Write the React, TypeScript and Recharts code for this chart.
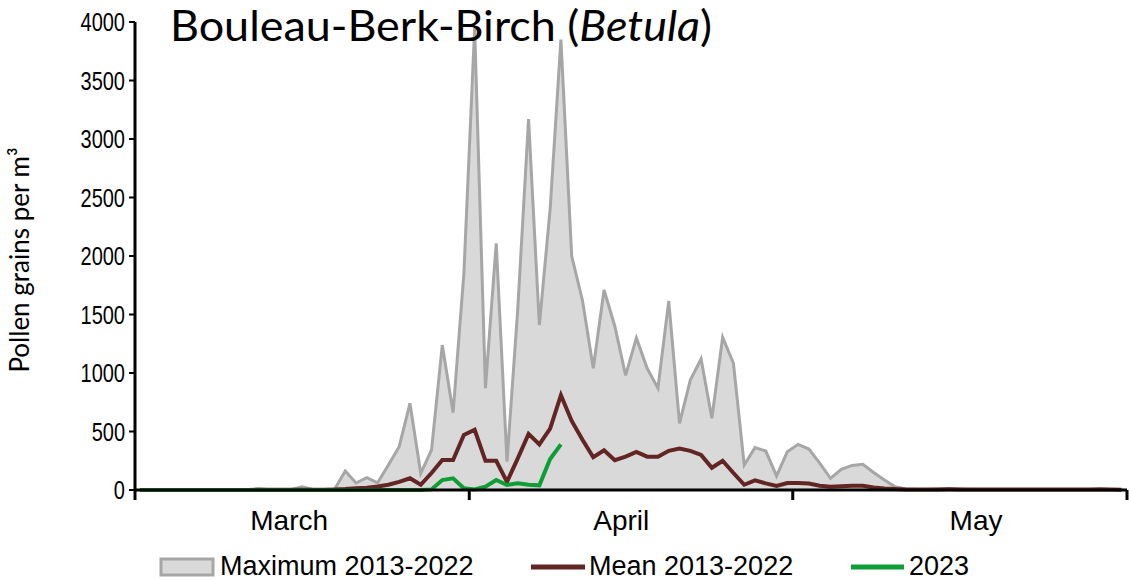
import React from 'react';
import { Area, ComposedChart, Line, XAxis, YAxis } from 'recharts';

// daily values, 1 March .. 31 May (92 days)
const maxValues = [
  0, 0, 0, 0, 0, 0, 0, 0, 0, 0, 0, 10, 3, 3, 5, 28, 5, 3, 5, 162,
  60, 105, 62, 214, 370, 741, 143, 342, 1239, 661, 1850, 3950, 870, 2108, 242, 1550, 3170, 1410, 2400, 3850,
  2000, 1620, 1040, 1710, 1400, 980, 1300, 1040, 870, 1615, 570, 940, 1120, 613, 1305, 1083, 214, 362, 333, 120,
  327, 390, 350, 230, 100, 177, 210, 220, 150, 85, 28, 8, 5, 5, 8, 12, 8, 5, 5, 5,
  5, 5, 5, 5, 5, 5, 5, 5, 5, 12, 5, 3,
];

const meanValues = [
  0, 0, 0, 0, 0, 0, 0, 0, 0, 0, 0, 2, 2, 2, 3, 3, 3, 3, 5, 8,
  15, 20, 30, 45, 70, 100, 45, 145, 256, 256, 470, 515, 250, 250, 70, 270, 480, 390, 525, 810,
  590, 430, 280, 340, 255, 285, 325, 285, 285, 335, 355, 335, 300, 190, 250, 145, 45, 82, 57, 35,
  60, 60, 55, 37, 28, 33, 37, 37, 22, 12, 8, 5, 5, 5, 5, 6, 5, 5, 4, 4,
  4, 4, 4, 4, 4, 4, 4, 5, 5, 4, 4, 3,
];

// 2023 season so far
const values2023 = [
  0, 0, 0, 0, 0, 0, 0, 0, 0, 0, 0, 0, 0, 0, 0, 0, 0, 0, 0, 0,
  0, 0, 0, 0, 0, 0, 0, 5, 85, 100, 15, 5, 28, 85, 43, 57, 45, 40, 265, 390,
];

const monthLabels = ['March', 'April', 'May'];
const monthStarts = [0, 31, 61, 92];
const monthLabelDays = [14.3, 45.1, 78];
const yTicks = [0, 500, 1000, 1500, 2000, 2500, 3000, 3500, 4000];

const chartData = maxValues.map((v, i) => ({
  day: i + 0.5,
  max: v,
  mean: meanValues[i],
  y2023: i < values2023.length ? values2023[i] : null,
}));

const arial = '"Liberation Sans", Arial, sans-serif';
const calibriLike = 'Lato, "Open Sans", sans-serif';

const MAX_FILL = '#d9d9d9';
const MAX_STROKE = '#a6a6a6';
const MEAN_COLOR = '#632523';
const GREEN = '#0e9e36';

function MonthTick(props: any) {
  const { x, y, payload } = props;
  const v = payload.value;
  if (monthStarts.indexOf(v) >= 0) {
    return <line x1={x} x2={x} y1={y} y2={y + 10} stroke="#000" strokeWidth={3} />;
  }
  const labelIdx = monthLabelDays.indexOf(v);
  return (
    <text x={x} y={y + 40} textAnchor="middle" fontFamily={arial} fontSize={28} fill="#000">
      {monthLabels[labelIdx]}
    </text>
  );
}

// narrow-looking tick numbers (Arial Narrow in the original)
function CountTick(props: any) {
  const { x, y, payload } = props;
  return (
    <text
      transform={`translate(${x},${y + 9}) scale(0.8,1)`}
      textAnchor="end"
      fontFamily={arial}
      fontSize={25}
      fill="#000"
    >
      {payload.value}
    </text>
  );
}

export default function App() {
  return (
    <div style={{ position: 'absolute', left: 0, top: 0, width: 1129, height: 581, background: '#fff' }}>
      <ComposedChart
        width={1129}
        height={581}
        data={chartData}
        margin={{ top: 22, right: 2, left: 0, bottom: 0 }}
      >
        <XAxis
          dataKey="day"
          type="number"
          domain={[0, 92]}
          ticks={[...monthStarts, ...monthLabelDays].sort((a, b) => a - b)}
          interval={0}
          tick={<MonthTick />}
          tickLine={false}
          tickSize={0}
          tickMargin={0}
          axisLine={{ stroke: '#000', strokeWidth: 3 }}
          height={91}
        />
        <YAxis
          domain={[0, 4000]}
          ticks={yTicks}
          interval={0}
          width={135}
          tickSize={6}
          tickMargin={4}
          tickLine={{ stroke: '#000', strokeWidth: 2 }}
          axisLine={{ stroke: '#000', strokeWidth: 3 }}
          tick={<CountTick />}
        />
        <Area
          type="linear"
          dataKey="max"
          fill={MAX_FILL}
          fillOpacity={1}
          stroke={MAX_STROKE}
          strokeWidth={3}
          isAnimationActive={false}
          dot={false}
          activeDot={false}
        />
        <Line
          type="linear"
          dataKey="mean"
          stroke={MEAN_COLOR}
          strokeWidth={4}
          dot={false}
          activeDot={false}
          isAnimationActive={false}
        />
        <Line
          type="linear"
          dataKey="y2023"
          stroke={GREEN}
          strokeWidth={4}
          dot={false}
          activeDot={false}
          isAnimationActive={false}
        />
      </ComposedChart>

      <svg
        width={1129}
        height={581}
        style={{ position: 'absolute', left: 0, top: 0, pointerEvents: 'none' }}
      >
        <text
          x={170}
          y={41}
          fontFamily={calibriLike}
          fontSize={43}
          fill="#000"
          textLength={542}
          lengthAdjust="spacingAndGlyphs"
        >
          Bouleau-Berk-Birch (<tspan fontStyle="italic">Betula</tspan>)
        </text>
        <text
          x={29}
          y={260}
          transform="rotate(-90 29 260)"
          textAnchor="middle"
          fontFamily={calibriLike}
          fontSize={26}
          fill="#000"
        >
          Pollen grains per m³
        </text>

        <rect x={161} y={559} width={52} height={16} fill={MAX_FILL} stroke={MAX_STROKE} strokeWidth={3} />
        <text x={220} y={575} fontFamily={arial} fontSize={27} fill="#000">
          Maximum 2013-2022
        </text>
        <line x1={531} x2={585} y1={567} y2={567} stroke={MEAN_COLOR} strokeWidth={5} />
        <text x={589} y={575} fontFamily={arial} fontSize={27} fill="#000">
          Mean 2013-2022
        </text>
        <line x1={851} x2={904} y1={567} y2={567} stroke={GREEN} strokeWidth={5} />
        <text x={909} y={575} fontFamily={arial} fontSize={27} fill="#000">
          2023
        </text>
      </svg>
    </div>
  );
}
